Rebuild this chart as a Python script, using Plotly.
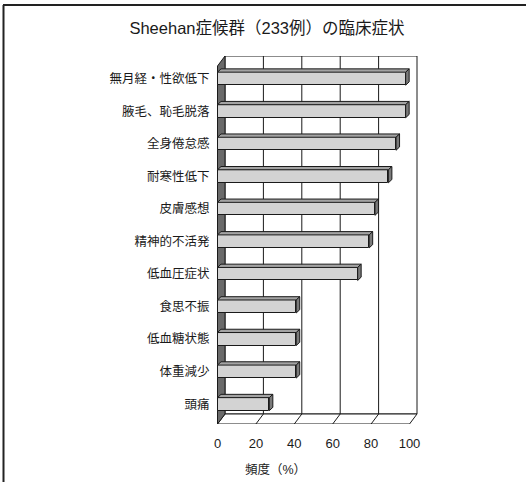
import plotly.graph_objects as go

# ---- data -------------------------------------------------------------
categories = ["無月経・性欲低下", "腋毛、恥毛脱落", "全身倦怠感", "耐寒性低下", "皮膚感想",
              "精神的不活発", "低血圧症状", "食思不振", "低血糖状態", "体重減少", "頭痛"]
frequency = [98, 98, 93, 89, 82, 79, 73, 41, 41, 41, 27]
x_ticks = [0, 20, 40, 60, 80, 100]

title_text = "Sheehan症候群（233例）の臨床症状"
x_title = "頻度（%）"

# ---- geometry of the pseudo-3D box (pixels) ---------------------------
W, H = 526, 482
PL, PR, PT, PB = 217, 418, 56, 424      # plot area edges
FRONT_TOP = 66                          # top of the front plane
X0_PX = 217.5                           # pixel of 0 % on the front plane
PX_PER_PCT = 1.92
n = len(categories)
PX_PER_CAT = (PB - FRONT_TOP) / n
DEPTH_PX = (7.5, 10.0)                  # wall depth offset (right, up)
BAR_DEPTH_PX = (3.5, 3.3)               # bar depth offset (right, up)

DX = DEPTH_PX[0] / PX_PER_PCT
DY = DEPTH_PX[1] / PX_PER_CAT
BDX = BAR_DEPTH_PX[0] / PX_PER_PCT
BDY = BAR_DEPTH_PX[1] / PX_PER_CAT
BAR_W = 13.0 / PX_PER_CAT
BAR_LIFT = 3.6 / PX_PER_CAT

x_range = [(PL - X0_PX) / PX_PER_PCT, (PR - X0_PX) / PX_PER_PCT]
y_lo = -0.5
y_hi = n - 0.5
y_range = [y_lo, y_hi + DY]

# first category at the top
pos = [n - 1 - i for i in range(n)]
xmax = x_ticks[-1]

INK = "#1a1a1a"
FONT = "Liberation Sans, Noto Sans CJK JP, sans-serif"

fig = go.Figure()

shapes = []
# back wall
shapes.append(dict(type="rect", xref="x", yref="y", x0=DX, x1=xmax + DX,
                   y0=y_lo + DY, y1=y_hi + DY, fillcolor="white",
                   line=dict(color=INK, width=1), layer="below"))
# back-wall gridlines
for t in x_ticks[1:-1]:
    shapes.append(dict(type="line", xref="x", yref="y", x0=t + DX, x1=t + DX,
                       y0=y_lo + DY, y1=y_hi + DY,
                       line=dict(color=INK, width=1), layer="below"))
# floor
shapes.append(dict(type="path", xref="x", yref="y",
                   path=f"M0,{y_lo} L{xmax},{y_lo} L{xmax + DX},{y_lo + DY} "
                        f"L{DX},{y_lo + DY} Z",
                   fillcolor="white", line=dict(color=INK, width=1), layer="below"))
for t in x_ticks[1:-1]:
    shapes.append(dict(type="line", xref="x", yref="y", x0=t, x1=t + DX,
                       y0=y_lo, y1=y_lo + DY,
                       line=dict(color=INK, width=1), layer="below"))
# left side wall
shapes.append(dict(type="path", xref="x", yref="y",
                   path=f"M0,{y_lo} L0,{y_hi} L{DX},{y_hi + DY} L{DX},{y_lo + DY} Z",
                   fillcolor="#6a6a6a", line=dict(color=INK, width=1), layer="below"))

# outer frame (top and left rules)
def px_x(px):
    return (px - PL) / (PR - PL)

def px_y(py):
    return (PB - py) / (PB - PT)

shapes.append(dict(type="line", xref="paper", yref="paper",
                   x0=px_x(3), x1=px_x(W), y0=px_y(5), y1=px_y(5),
                   line=dict(color="#222222", width=2)))
shapes.append(dict(type="line", xref="paper", yref="paper",
                   x0=px_x(3.5), x1=px_x(3.5), y0=px_y(5), y1=px_y(H),
                   line=dict(color="#222222", width=2)))

# front faces of the bars
fig.add_trace(go.Bar(
    x=frequency, y=pos, orientation="h", base=0,
    width=BAR_W, offset=-BAR_W / 2 + BAR_LIFT,
    marker=dict(color="#d3d3d3", line=dict(color=INK, width=1)),
    hoverinfo="skip", showlegend=False,
))

# top and end faces of the bars
for v, p in zip(frequency, pos):
    yb = p - BAR_W / 2 + BAR_LIFT
    yt = yb + BAR_W
    fig.add_trace(go.Scatter(
        x=[0, v, v + BDX, BDX, 0], y=[yt, yt, yt + BDY, yt + BDY, yt],
        mode="lines", fill="toself", fillcolor="#a3a3a3",
        line=dict(color=INK, width=1), hoverinfo="skip", showlegend=False))
    fig.add_trace(go.Scatter(
        x=[v, v + BDX, v + BDX, v, v], y=[yb, yb + BDY, yt + BDY, yt, yb],
        mode="lines", fill="toself", fillcolor="#7a7a7a",
        line=dict(color=INK, width=1), hoverinfo="skip", showlegend=False))

fig.update_layout(
    width=W, height=H,
    margin=dict(l=PL, r=W - PR, t=PT, b=H - PB),
    paper_bgcolor="white", plot_bgcolor="white",
    font=dict(family=FONT, color=INK),
    title=dict(text=title_text, font=dict(size=16.5, family=FONT, color=INK),
               x=267 / W, y=1 - 28 / H, xref="container", yref="container",
               xanchor="center", yanchor="middle"),
    shapes=shapes,
    bargap=0,
    xaxis=dict(range=x_range, tickvals=x_ticks, ticktext=[str(t) for t in x_ticks],
               showgrid=False, zeroline=False, showline=False,
               ticks="outside", ticklen=7, tickcolor="rgba(0,0,0,0)",
               tickfont=dict(size=13, family=FONT, color=INK), fixedrange=True),
    yaxis=dict(range=y_range, tickvals=[p + BAR_LIFT for p in pos], ticktext=categories,
               showgrid=False, zeroline=False, showline=False,
               ticks="outside", ticklen=4, tickcolor="rgba(0,0,0,0)",
               tickfont=dict(size=12.5, family=FONT, color=INK), fixedrange=True),
    annotations=[dict(text=x_title, xref="paper", yref="paper",
                      x=px_x(275), y=px_y(469), xanchor="center", yanchor="middle",
                      showarrow=False, font=dict(size=12.5, family=FONT, color=INK))],
)

fig.write_html("out.html")
